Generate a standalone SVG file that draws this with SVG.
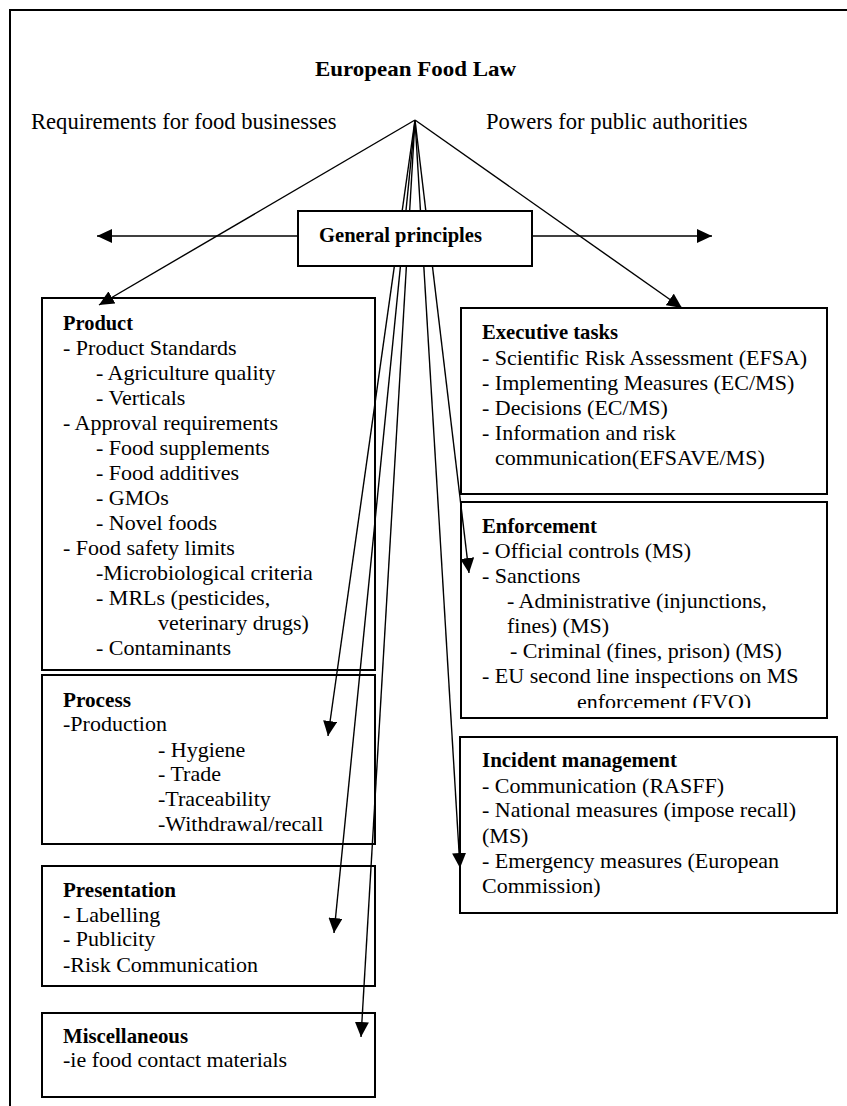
<svg xmlns="http://www.w3.org/2000/svg" width="847" height="1106" viewBox="0 0 847 1106">
<style>
text{font-family:"Liberation Serif","Times New Roman",serif;fill:#000}
.t{font-size:22px}
.lbl{font-size:22.6px}
.h{font-size:22px;font-weight:bold}
.box{fill:none;stroke:#000;stroke-width:2}
.wbox{fill:#fff;stroke:#000;stroke-width:2}
.ln{fill:none;stroke:#000;stroke-width:1.4}
.ar{fill:none;stroke:#000;stroke-width:1.4;marker-end:url(#ah)}
</style>
<defs>
<marker id="ah" markerUnits="userSpaceOnUse" markerWidth="15" markerHeight="14" viewBox="0 0 15 14" refX="15" refY="7" orient="auto">
<path d="M0,0 L15,7 L0,14 z" fill="#000"/>
</marker>
<clipPath id="encl"><rect x="461" y="500" width="366" height="208"/></clipPath>
</defs>
<rect width="847" height="1106" fill="#fff"/>
<path d="M10,1106 V10 H847" class="box"/>

<g id="title">
<text x="315" y="76" class="h" textLength="201" lengthAdjust="spacingAndGlyphs">European Food Law</text>
<text x="31" y="129" class="lbl">Requirements for food businesses</text>
<text x="486" y="129" class="lbl">Powers for public authorities</text>
</g>

<g id="connectors">
<path d="M415,120 L99,305" class="ar"/>
<path d="M415,120 L682,308" class="ar"/>
<path d="M415,120 L328,736" class="ar"/>
<path d="M415,120 L334,933" class="ar"/>
<path d="M415,120 L361,1037" class="ar"/>
<path d="M415,120 L469,573" class="ar"/>
<path d="M415,120 L460,868" class="ar"/>
<path d="M298,236 H97" class="ar"/>
<path d="M532,236 H712" class="ar"/>
</g>

<g id="general-principles">
<rect x="298" y="211" width="234" height="55" class="wbox"/>
<text x="319" y="242" class="h" textLength="163" lengthAdjust="spacingAndGlyphs">General principles</text>
</g>

<g id="product">
<rect x="42" y="298" width="333" height="372" class="box"/>
<text x="63" y="330" class="h" textLength="70" lengthAdjust="spacingAndGlyphs">Product</text>
<text class="t">
<tspan x="63" y="355">- Product Standards</tspan>
<tspan x="96" y="380">- Agriculture quality</tspan>
<tspan x="96" y="405">- Verticals</tspan>
<tspan x="63" y="430">- Approval requirements</tspan>
<tspan x="96" y="455">- Food supplements</tspan>
<tspan x="96" y="480">- Food additives</tspan>
<tspan x="96" y="505">- GMOs</tspan>
<tspan x="96" y="530">- Novel foods</tspan>
<tspan x="63" y="555">- Food safety limits</tspan>
<tspan x="96" y="580">-Microbiological criteria</tspan>
<tspan x="96" y="605">- MRLs (pesticides,</tspan>
<tspan x="158" y="630">veterinary drugs)</tspan>
<tspan x="96" y="655">- Contaminants</tspan>
</text>
</g>

<g id="process">
<rect x="42" y="675" width="333" height="169" class="box"/>
<text x="63" y="707" class="h" textLength="68" lengthAdjust="spacingAndGlyphs">Process</text>
<text class="t">
<tspan x="63" y="731">-Production</tspan>
<tspan x="158" y="757">- Hygiene</tspan>
<tspan x="158" y="781">- Trade</tspan>
<tspan x="158" y="806">-Traceability</tspan>
<tspan x="158" y="831">-Withdrawal/recall</tspan>
</text>
</g>

<g id="presentation">
<rect x="42" y="866" width="333" height="120" class="box"/>
<text x="63" y="897" class="h" textLength="113" lengthAdjust="spacingAndGlyphs">Presentation</text>
<text class="t">
<tspan x="63" y="922">- Labelling</tspan>
<tspan x="63" y="946">- Publicity</tspan>
<tspan x="63" y="972">-Risk Communication</tspan>
</text>
</g>

<g id="miscellaneous">
<rect x="42" y="1013" width="333" height="84" class="box"/>
<text x="63" y="1043" class="h" textLength="125" lengthAdjust="spacingAndGlyphs">Miscellaneous</text>
<text x="63" y="1067" class="t">-ie food contact materials</text>
</g>

<g id="executive-tasks">
<rect x="461" y="308" width="366" height="186" class="box"/>
<text x="482" y="339" class="h" textLength="136" lengthAdjust="spacingAndGlyphs">Executive tasks</text>
<text class="t">
<tspan x="482" y="365">- Scientific Risk Assessment (EFSA)</tspan>
<tspan x="482" y="390">- Implementing Measures (EC/MS)</tspan>
<tspan x="482" y="415">- Decisions (EC/MS)</tspan>
<tspan x="482" y="440">- Information and risk</tspan>
<tspan x="495" y="465">communication(EFSAVE/MS)</tspan>
</text>
</g>

<g id="enforcement">
<rect x="461" y="502" width="366" height="216" class="box"/>
<text x="482" y="533" class="h" textLength="115" lengthAdjust="spacingAndGlyphs">Enforcement</text>
<text class="t" clip-path="url(#encl)">
<tspan x="482" y="558">- Official controls (MS)</tspan>
<tspan x="482" y="583">- Sanctions</tspan>
<tspan x="507" y="608">- Administrative (injunctions,</tspan>
<tspan x="507" y="633">fines) (MS)</tspan>
<tspan x="510" y="658">- Criminal (fines, prison) (MS)</tspan>
<tspan x="482" y="683">- EU second line inspections on MS</tspan>
<tspan x="577" y="709">enforcement (FVO)</tspan>
</text>
</g>

<g id="incident-management">
<rect x="460" y="737" width="377" height="176" class="box"/>
<text x="482" y="767" class="h" textLength="195" lengthAdjust="spacingAndGlyphs">Incident management</text>
<text class="t">
<tspan x="482" y="793">- Communication (RASFF)</tspan>
<tspan x="482" y="817">- National measures (impose recall)</tspan>
<tspan x="482" y="843">(MS)</tspan>
<tspan x="482" y="868">- Emergency measures (European</tspan>
<tspan x="482" y="893">Commission)</tspan>
</text>
</g>
</svg>
